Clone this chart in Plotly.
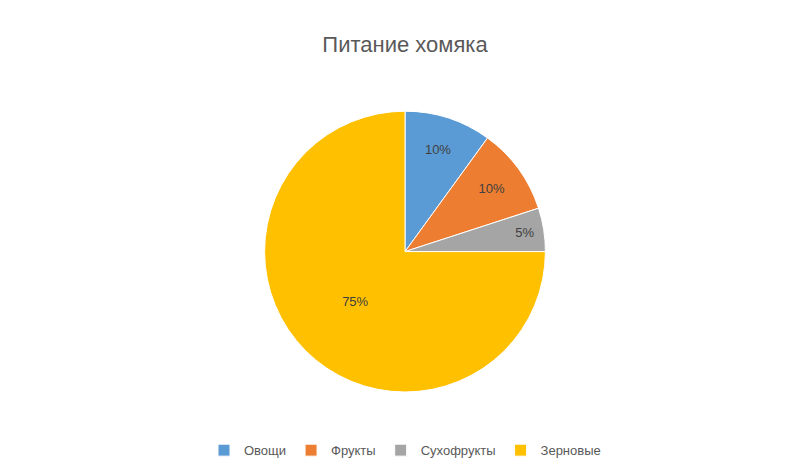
import plotly.graph_objects as go

categories = ["Овощи", "Фрукты", "Сухофрукты", "Зерновые"]
values = [10, 10, 5, 75]
colors = ["#5B9BD5", "#ED7D31", "#A5A5A5", "#FFC000"]

fig = go.Figure(go.Pie(
    labels=categories, values=values, sort=False, direction="clockwise", rotation=0,
    marker=dict(colors=colors, line=dict(color="white", width=1)),
    textinfo="percent", textposition="inside", insidetextorientation="horizontal",
    textfont=dict(family="Liberation Sans, Arial", size=13, color="#404040"),
    domain=dict(x=[0.15, 0.85], y=[0.1, 0.88]),
))
fig.update_layout(
    width=794, height=469, paper_bgcolor="white", plot_bgcolor="white",
    margin=dict(l=20, r=20, t=60, b=40),
    title=dict(text="Питание хомяка", x=0.5, xanchor="center", y=0.94,
               font=dict(family="Liberation Sans, Arial", size=22, color="#595959")),
    legend=dict(orientation="h", x=0.5, xanchor="center", y=-0.02, yanchor="top",
                font=dict(family="Liberation Sans, Arial", size=13, color="#595959"),
                traceorder="normal"),
)
fig.write_html("out.html")
